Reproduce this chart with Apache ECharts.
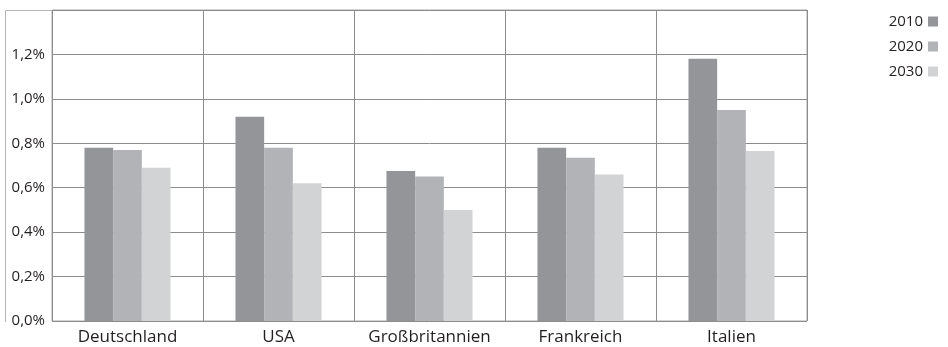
<!DOCTYPE html>
<html>
<head>
<meta charset="utf-8">
<script src="https://cdn.jsdelivr.net/npm/echarts@6/dist/echarts.min.js"></script>
<style>
  html, body { margin: 0; padding: 0; background: #ffffff; }
  #chart { width: 948px; height: 347px; }
</style>
</head>
<body>
<div id="chart"></div>
<script>
// Countries on the category axis
const countries = ['Deutschland', 'USA', 'Großbritannien', 'Frankreich', 'Italien'];
// Series names (years)
const years = ['2010', '2020', '2030'];
// Values in percent per year
const values2010 = [0.78, 0.92, 0.675, 0.78, 1.18];
const values2020 = [0.77, 0.78, 0.65, 0.735, 0.95];
const values2030 = [0.69, 0.62, 0.50, 0.66, 0.765];
// Value axis range and step
const yMin = 0;
const yMax = 1.4;
const yStep = 0.2;

const seriesValues = [values2010, values2020, values2030];
const seriesColors = ['#939598', '#b1b3b6', '#d1d3d4'];
const fontFamily = '"Open Sans", "Noto Sans", sans-serif';
const textColor = '#231f20';
const gridColor = '#8c8c8c';

const chart = echarts.init(document.getElementById('chart'), null, { renderer: 'canvas' });

chart.setOption({
  animation: false,
  backgroundColor: '#ffffff',
  textStyle: { fontFamily: fontFamily },
  // outer frame: left edge and top edge extending over the label column
  graphic: [
    {
      type: 'polyline',
      shape: { points: [[5.5, 322], [5.5, 10.5], [52, 10.5]] },
      style: { stroke: '#b5b5b5', lineWidth: 1, fill: null },
      silent: true
    }
  ],
  legend: {
    orient: 'vertical',
    right: 5,
    top: 9,
    align: 'right',
    itemWidth: 10,
    itemHeight: 10,
    itemGap: 10,
    icon: 'rect',
    textStyle: { fontSize: 15, color: textColor, fontFamily: fontFamily, padding: [0, 0, 0, 3] },
    data: years
  },
  grid: {
    left: 52,
    right: 141,
    top: 10,
    bottom: 26,
    show: true,
    borderColor: '#a8a8a8',
    borderWidth: 1
  },
  xAxis: {
    type: 'category',
    data: countries,
    boundaryGap: true,
    axisLine: { show: false },
    axisTick: { show: false },
    axisLabel: {
      interval: 0,
      margin: 8,
      fontSize: 17,
      color: textColor,
      fontFamily: fontFamily
    },
    splitLine: {
      show: true,
      interval: 0,
      lineStyle: { color: gridColor, width: 1 }
    }
  },
  yAxis: {
    type: 'value',
    min: yMin,
    max: yMax,
    interval: yStep,
    axisLine: { show: false },
    axisTick: { show: false },
    axisLabel: {
      margin: 7,
      fontSize: 15,
      color: textColor,
      fontFamily: fontFamily,
      showMaxLabel: false,
      padding: [0, 0, 5, 0],
      formatter: function (v) {
        return v.toFixed(1).replace('.', ',') + '%';
      }
    },
    splitLine: {
      show: true,
      lineStyle: { color: gridColor, width: 1 }
    }
  },
  series: years.map(function (name, i) {
    return {
      name: name,
      type: 'bar',
      data: seriesValues[i],
      barGap: '0%',
      barCategoryGap: '43%',
      itemStyle: { color: seriesColors[i] },
      emphasis: { disabled: true }
    };
  })
});
</script>
</body>
</html>
